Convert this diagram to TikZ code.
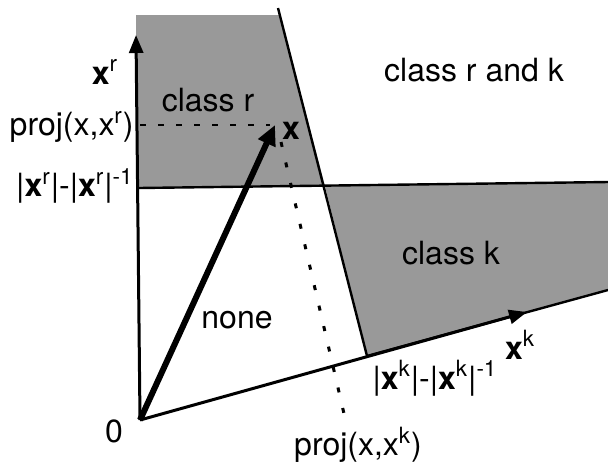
\documentclass[tikz,border=0pt]{standalone}
\usepackage{fontspec}
\setmainfont{TeX Gyre Heros}
\usetikzlibrary{arrows.meta}
\begin{document}
\begin{tikzpicture}[x=0.5pt,y=-0.5pt,
  shade/.style={fill=black!40,draw=none},
  axis/.style={line width=1.5pt,-{Triangle[length=9pt,width=7pt]}},
  vec/.style={line width=3pt,-{Triangle[length=10pt,width=9pt]}},
  border/.style={line width=1.2pt},
  lbl/.style={inner sep=0pt,font=\fontsize{16}{19}\selectfont},
  projdash/.style={line width=0.8pt,dash pattern=on 3pt off 6pt},
  projdot/.style={line width=1.5pt,dash pattern=on 2.5pt off 8pt}]
\useasboundingbox (0,0) rectangle (608,463);
% key points
\coordinate (O) at (140,420);
\coordinate (rtip) at (136,35);
\coordinate (ktip) at (527,312);
\coordinate (xtip) at (275,125);
\coordinate (dtop) at (278,8);
\coordinate (dbot) at (367,356);
\coordinate (hl) at (138,188);
\coordinate (hm) at (325,186);
\coordinate (hr) at (608,182);
\coordinate (kr) at (608,290);
% shaded regions
\fill[shade] (136,15) -- (280,15) -- (hm) -- (hl) -- cycle;
\fill[shade] (hm) -- (hr) -- (kr) -- (dbot) -- cycle;
% borders
\draw[border] (dtop) -- (dbot);
\draw[border] (hl) -- (hr);
\draw[border] (dbot) -- (kr);
% projections
\coordinate (pr) at (140,125);
\coordinate (pre) at (270,125);
\draw[projdash] (pr) -- (pre);
\coordinate (pks) at (281,142);
\coordinate (pke) at (345,418);
\draw[projdot] (pks) -- (pke);
% axes and vector
\draw[axis] (O) -- (rtip);
\draw[axis] (O) -- (ktip);
\draw[vec] (O) -- (xtip);
% labels
\node[lbl] (lxr) at (105,72) {\textbf{x}\textsuperscript{r}};
\node[lbl] (lcr) at (208,100) {class r};
\node[lbl,anchor=east] (lpr) at (134,127) {proj(x,x\textsuperscript{r})};
\node[lbl,anchor=east] (lnr) at (134,186) {|\textbf{x}\textsuperscript{r}|-|\textbf{x}\textsuperscript{r}|\textsuperscript{-1}};
\node[lbl] (lrk) at (474,70) {class r and k};
\node[lbl] (lck) at (451,253) {class k};
\node[lbl] (lnone) at (237,320) {none};
\node[lbl] (lx) at (291,131) {\textbf{x}};
\node[lbl] (lnk) at (435,378) {|\textbf{x}\textsuperscript{k}|-|\textbf{x}\textsuperscript{k}|\textsuperscript{-1}};
\node[lbl] (lxk) at (520,345) {\textbf{x}\textsuperscript{k}};
\node[lbl] (lpk) at (358,445) {proj(x,x\textsuperscript{k})};
\node[lbl] (l0) at (114,431) {0};
\end{tikzpicture}
\end{document}
